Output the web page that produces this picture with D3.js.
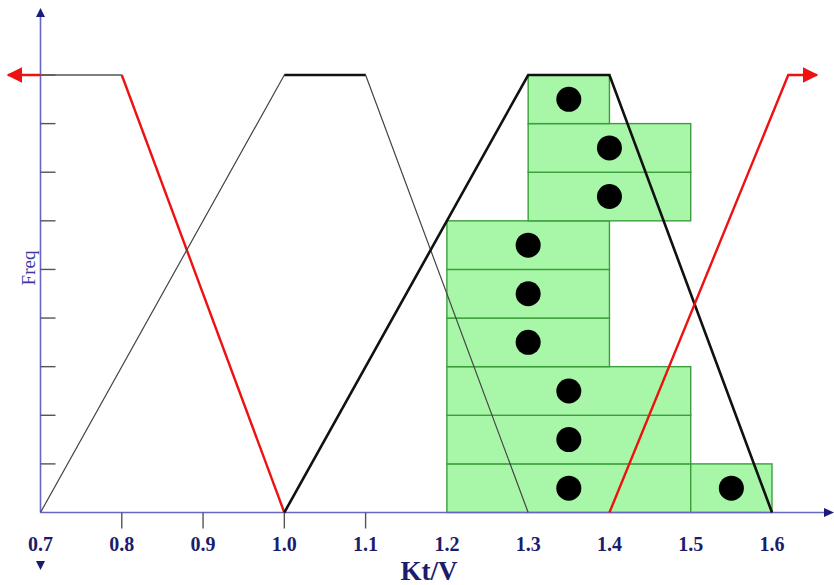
<!doctype html>
<html>
<head>
<style type="text/css">
  body { margin: 0; background: #fff; }
  .tick-label {
    fill: #1c1c6e;
    font: bold 20px "Liberation Serif", "DejaVu Serif", serif;
    text-anchor: middle;
  }
  .x-title {
    fill: #1c1c6e;
    font: bold 27px "Liberation Serif", "DejaVu Serif", serif;
    text-anchor: middle;
  }
  .y-title {
    fill: #3a3aa0;
    font: 19px "Liberation Serif", "DejaVu Serif", serif;
    text-anchor: middle;
  }
</style>
</head>
<body>
<div class="output">
<svg width="834" height="585"></svg>
</div>
<script src="https://d3js.org/d3.v7.min.js"></script>
<script>
// axis ticks
var xTickValues = [0.7, 0.8, 0.9, 1.0, 1.1, 1.2, 1.3, 1.4, 1.5, 1.6];
var xTickMarks = [0.8, 0.9, 1.0, 1.1];
var yTickValues = [1, 2, 3, 4, 5, 6, 7, 8, 9];

// histogram boxes (one per stacked cell)
var boxRow   = [1,   1,   2,   3,   4,   5,   6,   7,   8,   9];
var boxStart = [1.2, 1.5, 1.2, 1.2, 1.2, 1.2, 1.2, 1.3, 1.3, 1.3];
var boxEnd   = [1.5, 1.6, 1.5, 1.5, 1.4, 1.4, 1.4, 1.5, 1.5, 1.4];
var pointX   = [1.35, 1.55, 1.35, 1.35, 1.3, 1.3, 1.3, 1.4, 1.4, 1.35];

// membership functions
var lowFlatX = [0.7, 0.8], lowFlatY = [9, 9];
var lowArrowX = [0.7, 0.66], lowArrowY = [9, 9];
var lowX = [0.8, 1.0], lowY = [9, 0];
var midX = [0.7, 1.0, 1.1, 1.3], midY = [0, 9, 9, 0];
var highX = [1.0, 1.3, 1.4, 1.6], highY = [0, 9, 9, 0];
var vhighX = [1.4, 1.62, 1.655], vhighY = [0, 9, 9];

var svg = d3.select("div.output svg");

var x = d3.scaleLinear().domain([0.7, 1.6]).range([40.5, 772]);
var y = d3.scaleLinear().domain([0, 9]).range([512.5, 75]);

var line = d3.line().x(function(d) { return x(d[0]); }).y(function(d) { return y(d[1]); });
function pts(xs, ys) { return xs.map(function(v, i) { return [v, ys[i]]; }); }

var defs = svg.append("defs");
defs.append("marker").attr("id", "redArrow")
  .attr("viewBox", "0 0 10 10").attr("refX", 9).attr("refY", 5)
  .attr("markerWidth", 6.5).attr("markerHeight", 6.5).attr("orient", "auto")
  .attr("markerUnits", "strokeWidth")
  .append("path").attr("d", "M0,0L10,5L0,10z").attr("fill", "#ee1111");

// boxes
var cells = boxRow.map(function(r, i) {
  return {row: r, x0: boxStart[i], x1: boxEnd[i], px: pointX[i]};
});

svg.append("g").selectAll("rect")
  .data(cells).enter().append("rect")
  .attr("x", function(d) { return x(d.x0); })
  .attr("y", function(d) { return y(d.row); })
  .attr("width", function(d) { return x(d.x1) - x(d.x0); })
  .attr("height", function(d) { return y(d.row - 1) - y(d.row); })
  .attr("fill", "#a8f7a8")
  .attr("stroke", "#3d9e3d")
  .attr("stroke-width", 1.4);

// axes
var axisColor = "#6666c4";
svg.append("line")
  .attr("x1", x(0.7)).attr("x2", 826).attr("y1", y(0)).attr("y2", y(0))
  .attr("stroke", axisColor).attr("stroke-width", 1.6);
svg.append("path").attr("d", "M834," + y(0) + "l-10,-4.5l0,9z").attr("fill", "#1c1c80");

svg.append("line")
  .attr("x1", x(0.7)).attr("x2", x(0.7)).attr("y1", y(0)).attr("y2", 14)
  .attr("stroke", axisColor).attr("stroke-width", 1.6);
svg.append("path").attr("d", "M" + x(0.7) + ",8l-4.5,9l9,0z").attr("fill", "#1c1c80");

svg.append("g").selectAll("line.xt")
  .data(xTickMarks).enter().append("line")
  .attr("x1", function(d) { return x(d); }).attr("x2", function(d) { return x(d); })
  .attr("y1", y(0)).attr("y2", y(0) + 16)
  .attr("stroke", "#555").attr("stroke-width", 1.4);

svg.append("g").selectAll("line.yt")
  .data(yTickValues).enter().append("line")
  .attr("x1", x(0.7)).attr("x2", x(0.7) + 15)
  .attr("y1", function(d) { return y(d); }).attr("y2", function(d) { return y(d); })
  .attr("stroke", "#555").attr("stroke-width", 1.4);

svg.append("g").selectAll("text")
  .data(xTickValues).enter().append("text")
  .attr("class", "tick-label")
  .attr("x", function(d) { return x(d); })
  .attr("y", 551)
  .text(function(d) { return d.toFixed(1); });

svg.append("path").attr("d", "M" + (x(0.7) - 4.5) + ",561l9,0l-4.5,9z").attr("fill", "#1c1c6e");

svg.append("text").attr("class", "x-title").attr("x", 429).attr("y", 580).text("Kt/V");
svg.append("text").attr("class", "y-title")
  .attr("transform", "translate(35,268) rotate(-90)").text("Freq");

// membership lines
svg.append("path").attr("d", line(pts(lowFlatX, lowFlatY)))
  .attr("fill", "none").attr("stroke", "#555").attr("stroke-width", 1.4);
svg.append("path").attr("d", line(pts(lowArrowX, lowArrowY)))
  .attr("fill", "none").attr("stroke", "#ee1111").attr("stroke-width", 2.4)
  .attr("marker-end", "url(#redArrow)");
svg.append("path").attr("d", line(pts(lowX, lowY)))
  .attr("fill", "none").attr("stroke", "#ee1111").attr("stroke-width", 2.4);

svg.append("path").attr("d", line(pts(midX, midY)))
  .attr("fill", "none").attr("stroke", "#444").attr("stroke-width", 1.2)
  .attr("stroke-linejoin", "round");
svg.append("path").attr("d", line(pts(midX.slice(1, 3), midY.slice(1, 3))))
  .attr("fill", "none").attr("stroke", "#111").attr("stroke-width", 2.4);

svg.append("path").attr("d", line(pts(highX, highY)))
  .attr("fill", "none").attr("stroke", "#111").attr("stroke-width", 2.6)
  .attr("stroke-linejoin", "miter");

svg.append("path").attr("d", line(pts(vhighX, vhighY)))
  .attr("fill", "none").attr("stroke", "#ee1111").attr("stroke-width", 2.4)
  .attr("marker-end", "url(#redArrow)");

// points
svg.append("g").selectAll("circle")
  .data(cells).enter().append("circle")
  .attr("cx", function(d) { return x(d.px); })
  .attr("cy", function(d) { return (y(d.row) + y(d.row - 1)) / 2; })
  .attr("r", 12.5)
  .attr("fill", "#000");
</script>
</body>
</html>
